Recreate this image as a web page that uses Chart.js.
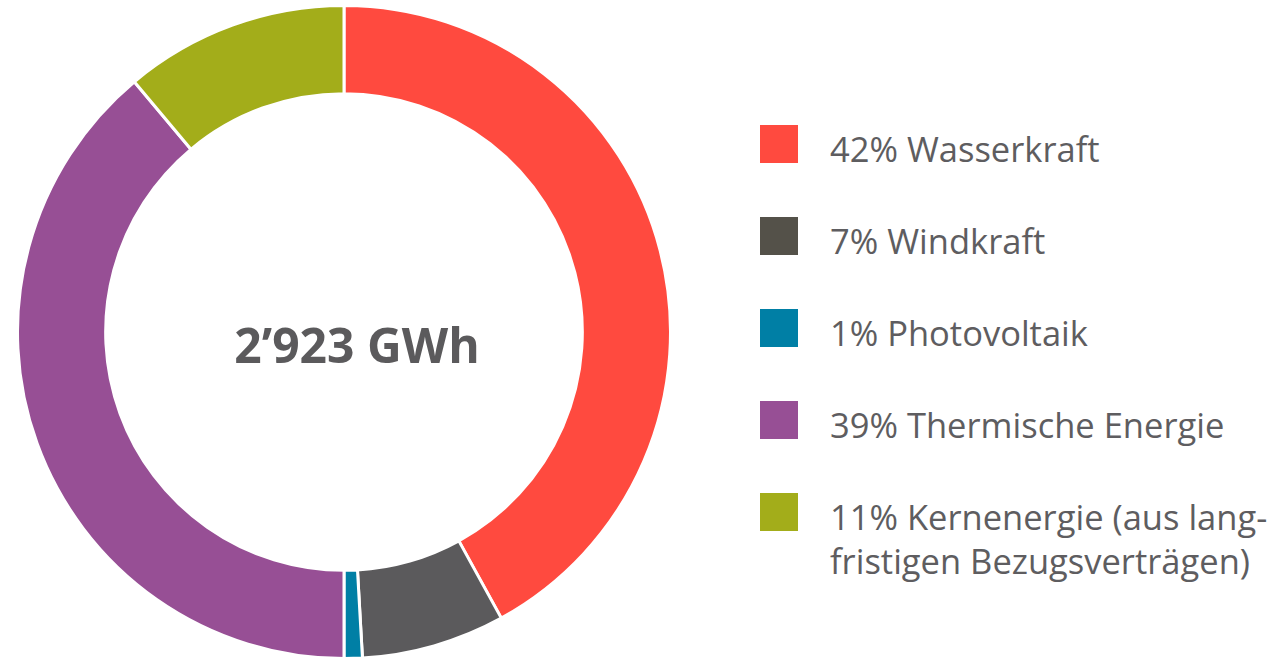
<!DOCTYPE html>
<html>
<head>
<meta charset="utf-8">
<script src="https://cdn.jsdelivr.net/npm/chart.js@4.4.1/dist/chart.umd.min.js"></script>
<style>
  html, body { margin: 0; padding: 0; background: #ffffff; width: 1287px; height: 661px; overflow: hidden; }
  #wrap { position: absolute; left: 16px; top: 4px; width: 656px; height: 656px; }
  #legend { position: absolute; left: 760px; top: 125px; margin: 0; padding: 0; list-style: none;
            font-family: "Open Sans", sans-serif; font-size: 34.5px; color: #5e5d60; }
  #legend li { display: flex; align-items: flex-start; height: 92px; }
  #legend .sw { width: 38px; height: 38px; flex: 0 0 38px; }
  #legend .tx { margin-left: 32px; line-height: 44px; margin-top: 2px; white-space: nowrap; }
</style>
</head>
<body>
<div id="wrap"><canvas id="c"></canvas></div>
<ul id="legend"></ul>
<script>
const categories = ["Wasserkraft", "Windkraft", "Photovoltaik", "Thermische Energie", "Kernenergie"];
const shares = [42.0, 7.1, 0.9, 38.9, 11.1];
const shareLabels = ["42%", "7%", "1%", "39%", "11%"];
const legendLines = [
  ["42% Wasserkraft"],
  ["7% Windkraft"],
  ["1% Photovoltaik"],
  ["39% Thermische Energie"],
  ["11% Kernenergie (aus lang-", "fristigen Bezugsverträgen)"]
];
const sliceColors = ["#ff4a3f", "#5b5a5c", "#007fa5", "#974f95", "#a3ad1a"];
const legendColors = ["#ff4a3f", "#545149", "#007fa5", "#974f95", "#a3ad1a"];
const centerText = "2\u2019923 GWh";

const legend = document.getElementById('legend');
legendLines.forEach((lines, i) => {
  const li = document.createElement('li');
  const sw = document.createElement('span');
  sw.className = 'sw';
  sw.style.background = legendColors[i];
  const tx = document.createElement('span');
  tx.className = 'tx';
  tx.innerHTML = lines.join('<br>');
  li.appendChild(sw); li.appendChild(tx);
  legend.appendChild(li);
});

const centerPlugin = {
  id: 'centerText',
  afterDraw(chart) {
    const ctx = chart.ctx;
    const arc = chart.getDatasetMeta(0).data[0];
    ctx.save();
    ctx.font = 'bold 48px "Open Sans", sans-serif';
    ctx.fillStyle = '#5b5a5c';
    ctx.textAlign = 'center';
    ctx.textBaseline = 'alphabetic';
    ctx.fillText(centerText, arc.x + 13, arc.y + 31);
    ctx.restore();
  }
};

new Chart(document.getElementById('c'), {
  type: 'doughnut',
  data: {
    labels: categories,
    datasets: [{
      data: shares,
      backgroundColor: sliceColors,
      borderColor: '#ffffff',
      borderWidth: 3,
      hoverOffset: 0
    }]
  },
  options: {
    responsive: true,
    maintainAspectRatio: false,
    animation: false,
    cutout: '73%',
    layout: { padding: 0 },
    plugins: { legend: { display: false }, tooltip: { enabled: false } }
  },
  plugins: [centerPlugin]
});
</script>
</body>
</html>
